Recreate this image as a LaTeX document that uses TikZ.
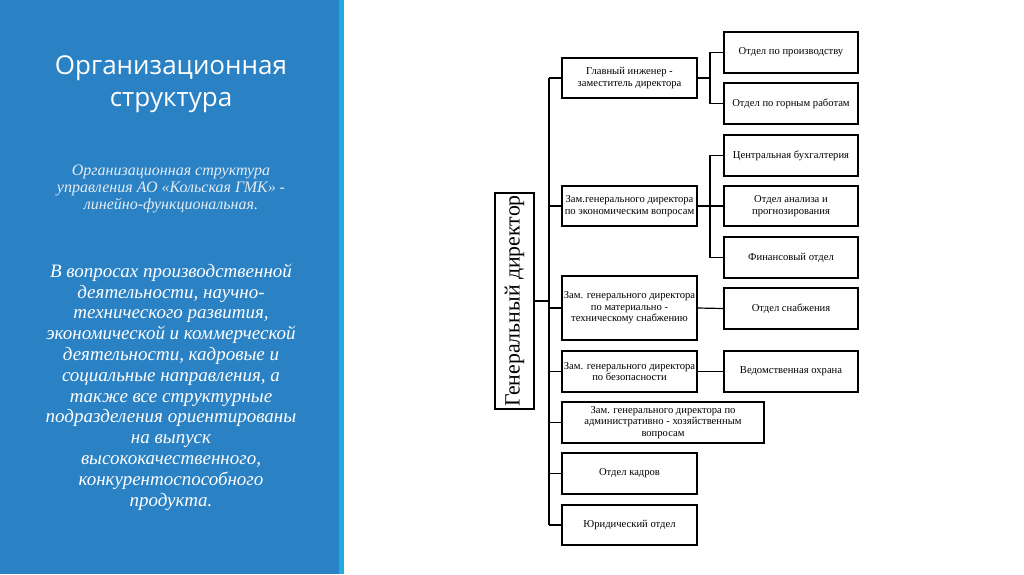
\documentclass[tikz,border=0pt]{standalone}
\usepackage{fontspec}
\setmainfont{Liberation Serif}
\newfontfamily\titlefont{Open Sans}
\definecolor{panel}{HTML}{2A81C4}
\definecolor{stripe}{HTML}{22AAE2}
\definecolor{subtxt}{HTML}{E4ECF4}
\tikzset{
  bx/.style={draw, line width=1.2pt, align=center, inner sep=1pt,
    font=\fontsize{10.6}{11.6}\selectfont},
  ln/.style={line width=1.2pt},
}
\begin{document}
\begin{tikzpicture}[x=1pt,y=-1pt]
\useasboundingbox (0,0) rectangle (1024,574);
\fill[white] (0,0) rectangle (1024,574);
\fill[panel] (0,0) rectangle (339,574);
\fill[stripe] (339,0) rectangle (344,574);

\node[text=white, align=center, font=\titlefont\fontsize{26}{32}\selectfont] (title) at (171,84) {Организационная\\структура};
\node[text=subtxt, align=center, font=\itshape\fontsize{16}{16.8}\selectfont] (sub) at (171,189) {Организационная структура\\управления АО «Кольская ГМК» -\\линейно-функциональная.};
\node[text=white, align=center, font=\itshape\fontsize{19}{20.8}\selectfont] (para) at (171,387) {В вопросах производственной\\деятельности, научно-\\технического развития,\\экономической и коммерческой\\деятельности, кадровые и\\социальные направления, а\\также все структурные\\подразделения ориентированы\\на выпуск\\высококачественного,\\конкурентоспособного\\продукта.};

% director
\node[draw, line width=1.2pt, minimum width=39pt, minimum height=216pt, inner sep=0pt] (gd) at (514.5,301) {};
\node[rotate=90, font=\fontsize{21.8}{23}\selectfont, inner sep=0pt] (gdt) at (514.5,301) {Генеральный директор};

% level 2
\node[bx, minimum width=135pt, minimum height=40pt] (g1) at (629.5,78) {Главный инженер -\\заместитель директора};
\node[bx, minimum width=135pt, minimum height=40pt] (g2) at (629.5,206) {Зам.генерального директора\\по экономическим вопросам};
\node[bx, minimum width=135pt, minimum height=64pt] (g3) at (629.5,308) {Зам. генерального директора\\по материально -\\техническому снабжению};
\node[bx, minimum width=135pt, minimum height=41pt] (g4) at (629.5,371.5) {Зам. генерального директора\\по безопасности};
\node[bx, minimum width=202pt, minimum height=41pt] (g5) at (663,422.5) {Зам. генерального директора по\\административно - хозяйственным\\вопросам};
\node[bx, minimum width=135pt, minimum height=41pt] (g6) at (629.5,473.5) {Отдел кадров};
\node[bx, minimum width=135pt, minimum height=40pt] (g7) at (629.5,525) {Юридический отдел};

% level 3
\node[bx, minimum width=134pt, minimum height=41pt] (d1) at (791,52.5) {Отдел по производству};
\node[bx, minimum width=134pt, minimum height=41pt] (d2) at (791,103.5) {Отдел по горным работам};
\node[bx, minimum width=134pt, minimum height=41pt] (d3) at (791,155.5) {Центральная бухгалтерия};
\node[bx, minimum width=134pt, minimum height=40pt] (d4) at (791,206) {Отдел анализа и\\прогнозирования};
\node[bx, minimum width=134pt, minimum height=41pt] (d5) at (791,257.5) {Финансовый отдел};
\node[bx, minimum width=134pt, minimum height=41pt] (d6) at (791,308.5) {Отдел снабжения};
\node[bx, minimum width=134pt, minimum height=41pt] (d7) at (791,371.5) {Ведомственная охрана};

% trunk
\coordinate (tt) at (549,78);
\coordinate (tb) at (549,525);
\draw[ln] (tt) -- (tb);
\draw[ln] (gd.east) -- (gd.east -| tt);
\foreach \n in {g1,g2,g3,g4,g5,g6,g7} {\draw[ln] (\n.west) -- (\n.west -| tt);}

% sub trunks
\coordinate (s1) at (710,0);
\draw[ln] (g1.east) -- (g1.east -| s1);
\draw[ln] (d1.west) -- (d1.west -| s1) -- (d2.west -| s1) -- (d2.west);
\draw[ln] (g2.east) -- (g2.east -| s1);
\draw[ln] (d3.west) -- (d3.west -| s1) -- (d5.west -| s1) -- (d5.west);
\draw[ln] (d4.west) -- (d4.west -| s1);
\draw[ln] (g3.east) -- (d6.west);
\draw[ln] (g4.east) -- (d7.west);
\end{tikzpicture}
\end{document}
